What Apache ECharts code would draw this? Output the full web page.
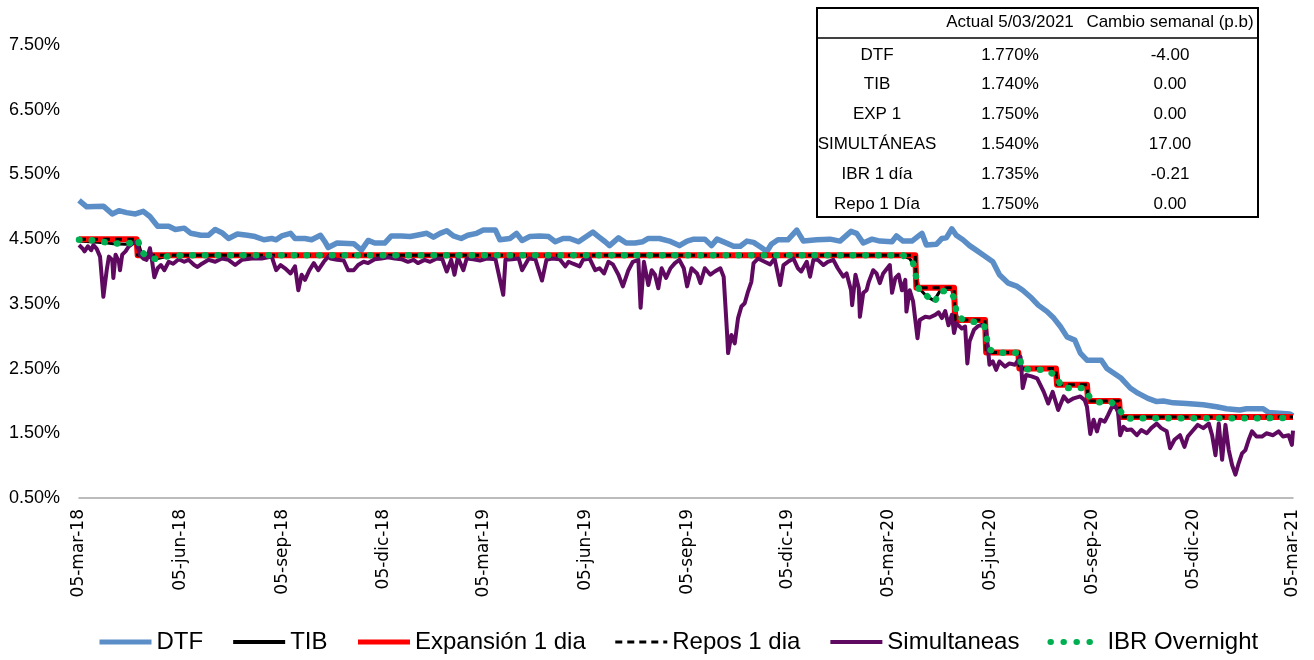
<!DOCTYPE html>
<html><head><meta charset="utf-8">
<script src="https://cdn.jsdelivr.net/npm/echarts@6/dist/echarts.min.js"></script>
<style>html,body{margin:0;padding:0;background:#fff}#c{width:1314px;height:660px}</style>
</head><body><div id="c"></div>
<script>
// x values are days elapsed since 05-mar-2018
const startDate = '2018-03-05';
const tickDates = ['2018-03-05','2018-06-05','2018-09-05','2018-12-05','2019-03-05','2019-06-05','2019-09-05','2019-12-05','2020-03-05','2020-06-05','2020-09-05','2020-12-05','2021-03-05'];
const tickLabels = ['05-mar-18','05-jun-18','05-sep-18','05-dic-18','05-mar-19','05-jun-19','05-sep-19','05-dic-19','05-mar-20','05-jun-20','05-sep-20','05-dic-20','05-mar-21'];
const yTicks = [0.5,1.5,2.5,3.5,4.5,5.5,6.5,7.5];

const dtf = [[0,5.10],[7,5.00],[22,5.01],[30,4.89],[36,4.94],[43,4.91],[51,4.89],[58,4.93],[64,4.85],[71,4.70],[81,4.70],[87,4.65],[95,4.67],[101,4.59],[110,4.56],[117,4.56],[123,4.65],[129,4.60],[135,4.51],[143,4.58],[152,4.56],[159,4.54],[167,4.49],[174,4.51],[178,4.49],[183,4.55],[191,4.59],[195,4.51],[204,4.51],[210,4.49],[218,4.56],[222,4.46],[225,4.37],[233,4.44],[248,4.43],[255,4.33],[261,4.48],[267,4.44],[276,4.44],[282,4.55],[291,4.55],[299,4.54],[305,4.56],[314,4.59],[320,4.53],[326,4.59],[332,4.63],[338,4.55],[345,4.51],[351,4.56],[359,4.59],[365,4.64],[376,4.64],[380,4.49],[389,4.51],[395,4.59],[400,4.48],[407,4.54],[416,4.55],[424,4.54],[430,4.46],[437,4.51],[443,4.51],[451,4.46],[458,4.54],[464,4.61],[469,4.54],[475,4.46],[479,4.40],[487,4.52],[494,4.44],[502,4.44],[509,4.46],[514,4.51],[524,4.51],[533,4.47],[542,4.40],[549,4.47],[555,4.50],[565,4.50],[571,4.40],[576,4.50],[583,4.45],[591,4.39],[597,4.39],[603,4.47],[609,4.45],[616,4.37],[621,4.31],[625,4.42],[631,4.49],[640,4.49],[648,4.64],[654,4.47],[666,4.49],[678,4.50],[687,4.47],[697,4.62],[702,4.59],[708,4.44],[716,4.50],[723,4.47],[734,4.46],[738,4.55],[744,4.47],[752,4.47],[758,4.55],[761,4.59],[765,4.41],[774,4.42],[779,4.51],[783,4.52],[788,4.66],[792,4.56],[798,4.49],[804,4.40],[810,4.33],[816,4.26],[825,4.15],[831,3.95],[839,3.82],[847,3.77],[852,3.71],[860,3.59],[866,3.48],[874,3.38],[880,3.28],[886,3.15],[892,2.99],[899,2.94],[904,2.74],[910,2.63],[923,2.63],[928,2.50],[934,2.43],[941,2.35],[949,2.20],[956,2.12],[965,2.04],[973,1.99],[979,2.00],[988,1.97],[1000,1.96],[1015,1.94],[1027,1.91],[1036,1.88],[1048,1.86],[1054,1.88],[1069,1.88],[1074,1.82],[1093,1.80],[1096,1.77]];

const tib = [[0,4.47],[10,4.46],[20,4.45],[31,4.43],[42,4.42],[48,4.44],[53,4.48],[56,4.30],[63,4.22],[71,4.20],[81,4.24],[95,4.24],[744,4.24],[750,4.20],[755,4.05],[758,3.75],[765,3.62],[772,3.55],[778,3.72],[788,3.72],[791,3.45],[793,3.28],[810,3.24],[817,3.20],[819,2.95],[822,2.76],[849,2.74],[851,2.52],[883,2.48],[885,2.26],[910,2.22],[913,2.02],[939,1.98],[942,1.76],[1096,1.74]];

const expansion = [[0,4.50],[52,4.50],[53,4.25],[755,4.25],[756,3.75],[790,3.75],[791,3.25],[818,3.25],[819,2.75],[848,2.75],[849,2.50],[882,2.50],[883,2.25],[910,2.25],[911,2.00],[939,2.00],[940,1.75],[1096,1.75]];

const repos = [[0,4.50],[52,4.50],[53,4.25],[755,4.25],[756,3.75],[790,3.75],[791,3.25],[818,3.25],[819,2.75],[848,2.75],[849,2.50],[882,2.50],[883,2.25],[910,2.25],[911,2.00],[939,2.00],[940,1.75],[1096,1.75]];

const simultaneas = [[0,4.41],[3,4.36],[5,4.31],[8,4.39],[11,4.33],[13,4.41],[16,4.35],[19,4.23],[22,3.61],[25,4.02],[27,4.23],[30,4.18],[31,3.90],[33,4.26],[36,4.15],[37,4.02],[39,4.26],[42,4.31],[45,4.39],[49,4.44],[52,4.46],[55,4.26],[58,4.20],[61,4.18],[64,4.36],[66,4.16],[68,3.91],[71,4.05],[74,4.10],[77,4.02],[81,4.15],[85,4.12],[90,4.19],[95,4.15],[99,4.18],[104,4.10],[107,4.07],[111,4.12],[117,4.18],[123,4.15],[129,4.20],[135,4.18],[141,4.10],[147,4.18],[156,4.20],[165,4.20],[174,4.23],[178,4.02],[182,4.10],[186,4.05],[191,3.97],[195,4.08],[198,3.71],[201,3.95],[204,3.87],[208,4.02],[212,4.13],[216,4.02],[221,4.15],[225,4.23],[227,4.20],[233,4.18],[239,4.17],[243,4.02],[248,4.02],[252,4.10],[257,4.15],[261,4.13],[267,4.19],[273,4.20],[279,4.22],[285,4.20],[291,4.19],[297,4.15],[302,4.18],[306,4.13],[312,4.18],[317,4.15],[323,4.20],[328,4.19],[332,4.00],[336,4.18],[339,3.95],[342,4.22],[347,4.02],[350,4.20],[356,4.19],[362,4.17],[368,4.20],[376,4.19],[383,3.64],[385,4.18],[391,4.19],[397,4.20],[400,4.02],[406,4.20],[412,4.19],[418,3.86],[422,4.18],[427,4.20],[434,4.19],[439,4.08],[442,4.15],[446,4.12],[452,4.08],[455,4.18],[461,4.20],[466,4.02],[470,4.05],[474,3.97],[478,4.15],[482,4.11],[487,3.95],[491,3.77],[496,4.02],[500,4.15],[505,4.18],[507,3.44],[510,4.15],[514,3.79],[517,4.02],[520,3.95],[523,3.74],[526,4.05],[530,3.90],[534,4.05],[538,4.13],[542,4.18],[546,4.05],[549,3.77],[553,4.05],[558,3.97],[561,3.82],[565,4.05],[570,3.95],[574,4.00],[579,4.05],[582,3.92],[585,3.07],[586,2.74],[589,3.02],[592,2.89],[595,3.28],[598,3.46],[601,3.51],[604,3.69],[607,3.84],[609,4.13],[613,4.20],[619,4.15],[624,4.11],[628,4.20],[633,3.79],[636,4.10],[640,4.15],[645,4.20],[649,4.05],[652,4.00],[657,4.15],[660,3.92],[663,4.18],[667,4.18],[672,4.10],[676,4.15],[681,4.18],[685,4.05],[690,3.92],[693,3.97],[697,3.71],[698,3.48],[701,3.95],[704,3.74],[705,3.30],[708,3.67],[711,3.71],[713,3.84],[717,4.02],[720,3.97],[723,3.82],[726,3.97],[732,4.10],[734,3.67],[737,3.90],[740,3.95],[743,3.71],[746,3.87],[747,3.38],[750,3.71],[753,3.54],[757,2.97],[759,3.25],[764,3.30],[768,3.29],[773,3.33],[776,3.37],[779,3.28],[782,3.39],[785,3.17],[788,3.33],[790,3.05],[792,3.20],[797,3.12],[800,3.15],[802,2.58],[804,2.92],[808,3.10],[812,3.16],[816,3.17],[819,3.10],[822,2.56],[825,2.61],[828,2.48],[831,2.61],[836,2.53],[840,2.58],[845,2.56],[850,2.68],[852,2.20],[855,2.40],[860,2.38],[865,2.35],[871,2.14],[875,1.96],[879,2.14],[884,1.86],[889,2.07],[893,1.99],[898,2.04],[904,2.07],[908,2.01],[910,1.91],[913,1.49],[916,1.71],[919,1.53],[922,1.71],[926,1.68],[929,1.78],[932,1.89],[935,1.94],[938,1.83],[940,1.47],[943,1.60],[946,1.55],[950,1.56],[955,1.47],[959,1.55],[964,1.50],[968,1.58],[973,1.65],[977,1.58],[982,1.53],[985,1.27],[989,1.40],[994,1.47],[998,1.29],[1001,1.45],[1006,1.55],[1010,1.63],[1015,1.58],[1020,1.65],[1023,1.47],[1026,1.16],[1029,1.65],[1032,1.09],[1035,1.63],[1038,1.24],[1041,1.01],[1044,0.86],[1047,1.04],[1050,1.19],[1053,1.24],[1056,1.40],[1059,1.53],[1063,1.45],[1068,1.45],[1072,1.50],[1078,1.47],[1083,1.53],[1087,1.45],[1092,1.47],[1095,1.32],[1096,1.54]];

const ibr = [[0,4.49],[9,4.49],[20,4.46],[31,4.44],[42,4.42],[48,4.45],[53,4.50],[56,4.31],[63,4.21],[71,4.19],[81,4.24],[95,4.25],[744,4.25],[753,4.13],[756,3.90],[759,3.68],[765,3.63],[772,3.52],[778,3.70],[787,3.69],[791,3.56],[792,3.34],[799,3.24],[809,3.22],[817,3.18],[819,3.03],[821,2.80],[830,2.74],[840,2.75],[849,2.74],[851,2.50],[861,2.48],[873,2.48],[883,2.38],[887,2.20],[898,2.20],[908,2.20],[913,2.04],[921,1.98],[932,1.98],[939,1.87],[945,1.73],[1096,1.735]];

const tableHeaders = ['', 'Actual 5/03/2021', 'Cambio semanal (p.b)'];
const tableNames = ['DTF','TIB','EXP 1','SIMULTÁNEAS','IBR 1 día','Repo 1 Día'];
const tableActual = ['1.770%','1.740%','1.750%','1.540%','1.735%','1.750%'];
const tableChange = ['-4.00','0.00','0.00','17.00','-0.21','0.00'];

const DAY = 86400000;
const t0 = Date.parse(startDate);
const tickDays = tickDates.map(d => Math.round((Date.parse(d) - t0) / DAY));

const chart = echarts.init(document.getElementById('c'));

// table as graphic text elements
const tbl = [];
const TX = 817, TY = 8, TW = 441, TH = 209;
const colX = [877, 1010, 1170];
const headY = 22, rowY0 = 55, rowStep = 29.8;
const tFont = '17px "Liberation Sans", Arial, sans-serif';
tbl.push({type:'rect', shape:{x:TX, y:TY, width:TW, height:TH}, style:{fill:'#fff', stroke:'#000', lineWidth:2}, z:100});
tbl.push({type:'line', shape:{x1:TX, y1:38, x2:TX+TW, y2:38}, style:{stroke:'#000', lineWidth:1.5}, z:101});
tableHeaders.forEach((h,i) => { if (h) tbl.push({type:'text', x:colX[i], y:headY, style:{text:h, font:tFont, fill:'#000', align:'center', verticalAlign:'middle'}, z:102}); });
tableNames.forEach((n,r) => {
  const y = rowY0 + r*rowStep;
  [n, tableActual[r], tableChange[r]].forEach((s,i) => {
    tbl.push({type:'text', x:colX[i], y:y, style:{text:s, font:tFont, fill:'#000', align:'center', verticalAlign:'middle'}, z:102});
  });
});

function lineSeries(name, data, color, width, extra) {
  return {
    name, type:'line', data, showSymbol:false, symbol:'none', animation:false,
    lineStyle:Object.assign({color, width, join:'round'}, extra || {}),
    itemStyle:{color}
  };
}

chart.setOption({
  backgroundColor:'#fff',
  animation:false,
  grid:{left:79, right:21, top:45, bottom:162},
  xAxis:{
    type:'value', min:0, max:tickDays[tickDays.length-1],
    splitLine:{show:false}, axisTick:{show:false},
    axisLine:{show:true, lineStyle:{color:'#a6a6a6', width:1.5}},
    axisLabel:{
      customValues:tickDays, rotate:90, margin:11, color:'#000',
      fontFamily:'"DejaVu Sans", Verdana, sans-serif', fontSize:17,
      formatter:(v) => { const i = tickDays.indexOf(Math.round(v)); return i >= 0 ? tickLabels[i] : ''; }
    }
  },
  yAxis:{
    type:'value', min:yTicks[0], max:yTicks[yTicks.length-1],
    splitLine:{show:false}, axisTick:{show:false}, axisLine:{show:false},
    axisLabel:{
      customValues:yTicks, margin:19, color:'#000',
      fontFamily:'"Liberation Sans", Arial, sans-serif', fontSize:18,
      formatter:(v) => v.toFixed(2) + '%'
    }
  },
  legend:{
    left:92, top:625, itemWidth:52, itemHeight:2, itemGap:28,
    itemStyle:{opacity:0},
    textStyle:{fontFamily:'"Liberation Sans", Arial, sans-serif', fontSize:24, color:'#000'},
    data:[
      {name:'DTF', lineStyle:{width:5}},
      {name:'TIB', lineStyle:{width:4}},
      {name:'Expansión 1 dia', lineStyle:{width:5}},
      {name:'Repos 1 dia', lineStyle:{width:3, type:[7,5]}},
      {name:'Simultaneas', lineStyle:{width:4}},
      {name:'IBR Overnight', lineStyle:{width:6, type:[0.5,12.5], cap:'round'}}
    ]
  },
  graphic:tbl,
  series:[
    lineSeries('DTF', dtf, '#5b8ec7', 5.5),
    lineSeries('TIB', tib, '#000000', 3),
    lineSeries('Expansión 1 dia', expansion, '#ff0000', 6),
    lineSeries('Repos 1 dia', repos, '#000000', 3, {type:[7,5]}),
    lineSeries('Simultaneas', simultaneas, '#5f0a60', 4),
    lineSeries('IBR Overnight', ibr, '#00b050', 6.5, {type:[0.5,12.2], cap:'round'})
  ]
});
</script>
</body></html>
